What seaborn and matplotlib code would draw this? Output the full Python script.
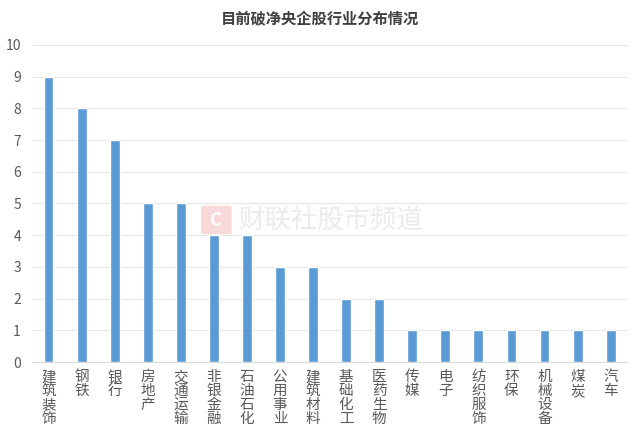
import matplotlib
matplotlib.use("Agg")
import matplotlib.pyplot as plt
from matplotlib.patches import FancyBboxPatch
import seaborn as sns
import pandas as pd

################################################
#                 Data
################################################
industries = ["建筑装饰", "钢铁", "银行", "房地产", "交通运输", "非银金融", "石油石化",
              "公用事业", "建筑材料", "基础化工", "医药生物", "传媒", "电子", "纺织服饰",
              "环保", "机械设备", "煤炭", "汽车"]
counts = [9, 8, 7, 5, 5, 4, 4, 3, 3, 2, 2, 1, 1, 1, 1, 1, 1, 1]
y_ticks = list(range(0, 11))
title = "目前破净央企股行业分布情况"
watermark = "财联社股市频道"

df = pd.DataFrame({"industry": industries, "count": counts})

sns.set_theme(style="white")
plt.rcParams["font.family"] = ["Noto Sans CJK SC", "DejaVu Sans"]

fig = plt.figure(figsize=(6.4, 4.32), dpi=100)
ax = fig.add_axes([0.05, 0.162, 0.93, 0.734])

sns.barplot(data=df, x="industry", y="count", color="#5B9BD5", saturation=1,
            width=0.3, ax=ax, zorder=3)

ax.set_ylim(0, 10)
ax.set_yticks(y_ticks)
ax.yaxis.grid(True, color="#e6e6e6", linewidth=0.8, zorder=0)
ax.set_xlim(-0.5, len(industries) - 0.5)
for s in ["top", "right", "left"]:
    ax.spines[s].set_visible(False)
ax.spines["bottom"].set_color("#d9d9d9")
ax.spines["bottom"].set_linewidth(0.8)

ax.set_xlabel("")
ax.set_ylabel("")
ax.set_xticks(range(len(industries)))
ax.set_xticklabels(["\n".join(name) for name in industries], fontsize=10.5,
                   color="#595959", linespacing=0.98, va="top")
ax.tick_params(axis="x", length=0, pad=6)
ax.tick_params(axis="y", length=0, labelsize=10, labelcolor="#595959", pad=8)

fig.text(0.5, 0.958, title, ha="center", va="center", fontsize=11,
         fontweight="bold", color="#404040")

# watermark
fig.text(0.372, 0.49, watermark, ha="left", va="center", fontsize=19,
         color="#ebebeb", zorder=1)
logo = FancyBboxPatch((0.318, 0.462), 0.04, 0.058, boxstyle="round,pad=0.004",
                      transform=fig.transFigure, facecolor="#f8dada",
                      edgecolor="none", zorder=1)
fig.patches.append(logo)
fig.text(0.338, 0.49, "C", ha="center", va="center", fontsize=13,
         fontweight="bold", color="white", zorder=2)

plt.savefig("out.png", dpi=100)
plt.close()
